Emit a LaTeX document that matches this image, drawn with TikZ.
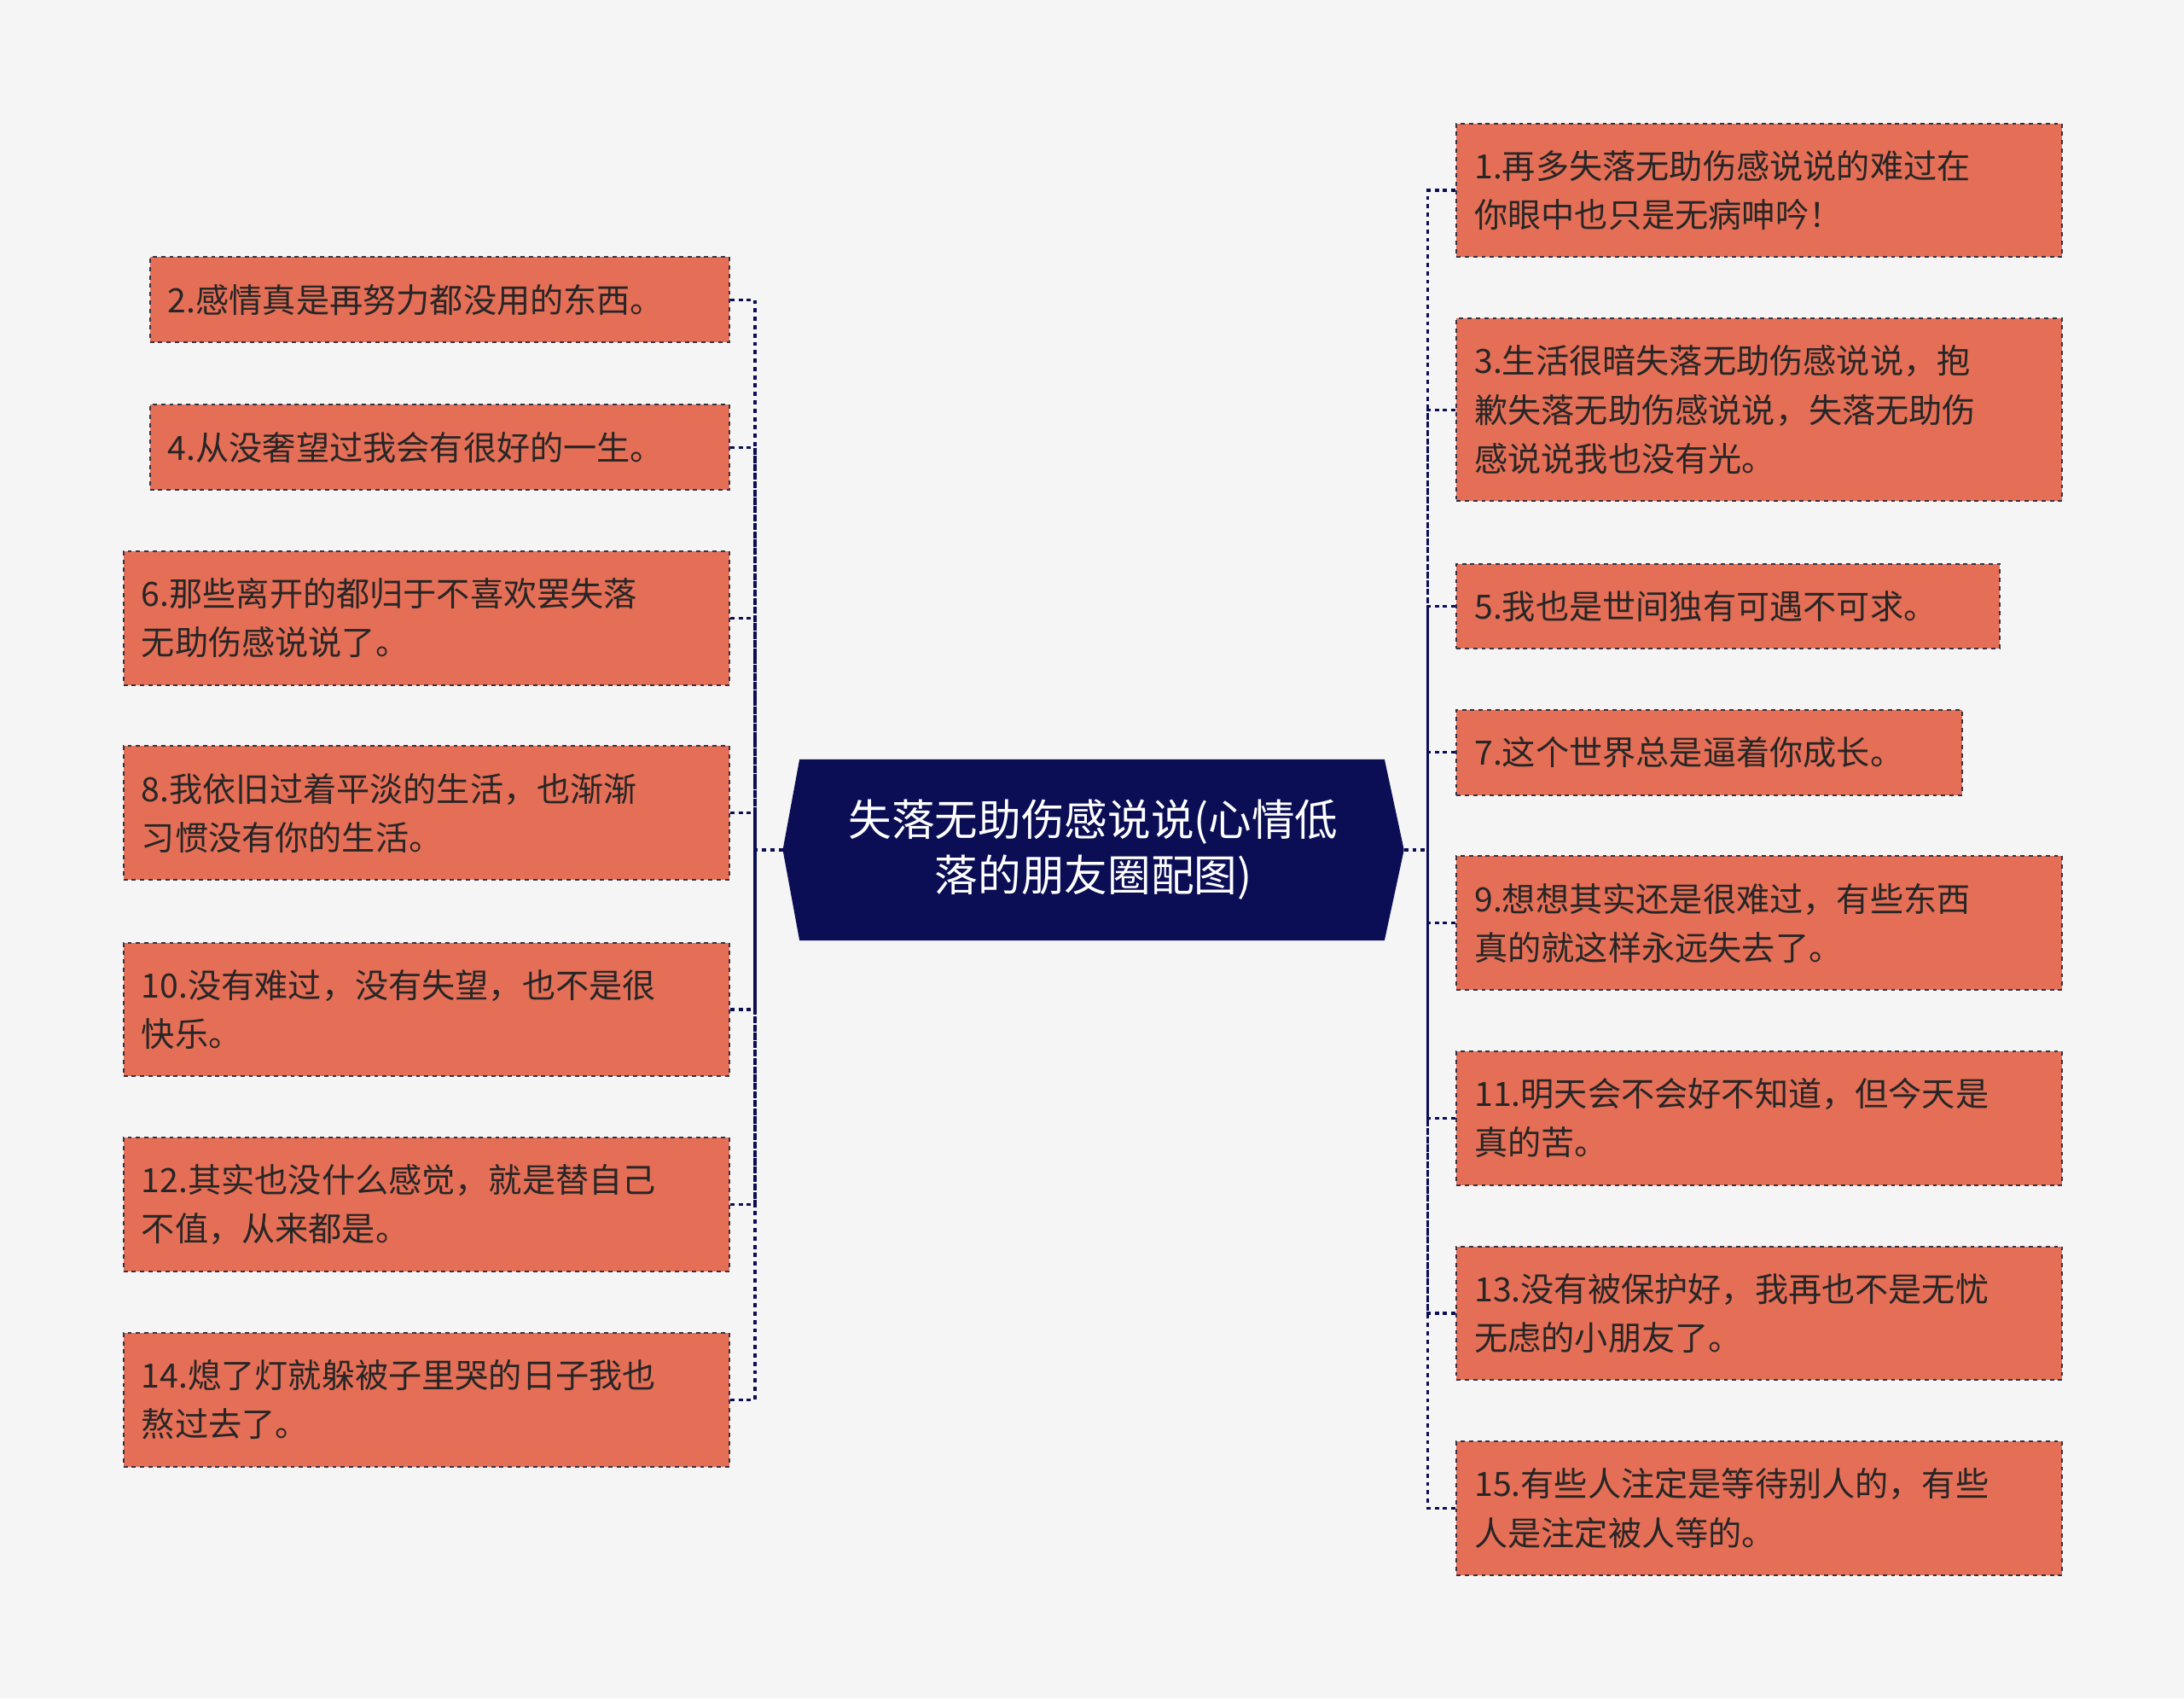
\documentclass[tikz,border=0pt]{standalone}
\usepackage{fontspec}
\newfontfamily\cjk{Noto Sans CJK SC}
\definecolor{bg}{HTML}{F5F5F5}
\definecolor{leaf}{HTML}{E56E56}
\definecolor{navy}{HTML}{0B0E55}
\definecolor{edge}{HTML}{333344}
\begin{document}
\begin{tikzpicture}[x=1pt,y=-1pt,
  leafbox/.style={draw=edge,dashed,line width=1.2pt,fill=leaf,anchor=north west,inner xsep=13pt,inner ysep=4pt,align=left,font=\cjk\fontsize{24}{35}\selectfont,text=black!85},
  conn/.style={draw=navy,dashed,line width=2pt}]
\fill[bg] (0,0) rectangle (1568,1219);
\useasboundingbox (0,0) rectangle (1568,1219);
% center
\fill[navy] (574,545) -- (994,545) -- (1008,610) -- (994,675) -- (574,675) -- (562,610) -- cycle;
\node[text=white,align=center,font=\cjk\fontsize{31}{40}\selectfont] (c) at (785,610) {失落无助伤感说说(心情低\\落的朋友圈配图)};
\coordinate (cl) at (562,610);
\coordinate (cr) at (1008,610);
% left
\newcommand\lnode[6]{\node[leafbox,text width=#4-26,minimum height=#5] (#1) at (#2,#3) {#6};}
\lnode{n2}{107}{184}{416}{61}{2.感情真是再努力都没用的东西。}
\lnode{n4}{107}{290}{416}{61}{4.从没奢望过我会有很好的一生。}
\lnode{n6}{88}{395}{435}{96}{6.那些离开的都归于不喜欢罢失落\\无助伤感说说了。}
\lnode{n8}{88}{535}{435}{96}{8.我依旧过着平淡的生活，也渐渐\\习惯没有你的生活。}
\lnode{n10}{88}{676}{435}{96}{10.没有难过，没有失望，也不是很\\快乐。}
\lnode{n12}{88}{816}{435}{96}{12.其实也没什么感觉，就是替自己\\不值，从来都是。}
\lnode{n14}{88}{956}{435}{96}{14.熄了灯就躲被子里哭的日子我也\\熬过去了。}
% right
\lnode{n1}{1045}{88}{435}{96}{1.再多失落无助伤感说说的难过在\\你眼中也只是无病呻吟！}
\lnode{n3}{1045}{228}{435}{131}{3.生活很暗失落无助伤感说说，抱\\歉失落无助伤感说说，失落无助伤\\感说说我也没有光。}
\lnode{n5}{1045}{404}{390}{61}{5.我也是世间独有可遇不可求。}
\lnode{n7}{1045}{509}{363}{61}{7.这个世界总是逼着你成长。}
\lnode{n9}{1045}{614}{435}{96}{9.想想其实还是很难过，有些东西\\真的就这样永远失去了。}
\lnode{n11}{1045}{754}{435}{96}{11.明天会不会好不知道，但今天是\\真的苦。}
\lnode{n13}{1045}{894}{435}{96}{13.没有被保护好，我再也不是无忧\\无虑的小朋友了。}
\lnode{n15}{1045}{1034}{435}{96}{15.有些人注定是等待别人的，有些\\人是注定被人等的。}
% connectors
\draw[conn] (cl) -- (542,610);
\foreach \n in {n2,n4,n6,n8,n10,n12,n14}
  \draw[conn] (\n.east) -| (542,610);
\draw[conn] (cr) -- (1025,610);
\foreach \n in {n1,n3,n5,n7,n9,n11,n13,n15}
  \draw[conn] (\n.west) -| (1025,610);
\end{tikzpicture}
\end{document}
